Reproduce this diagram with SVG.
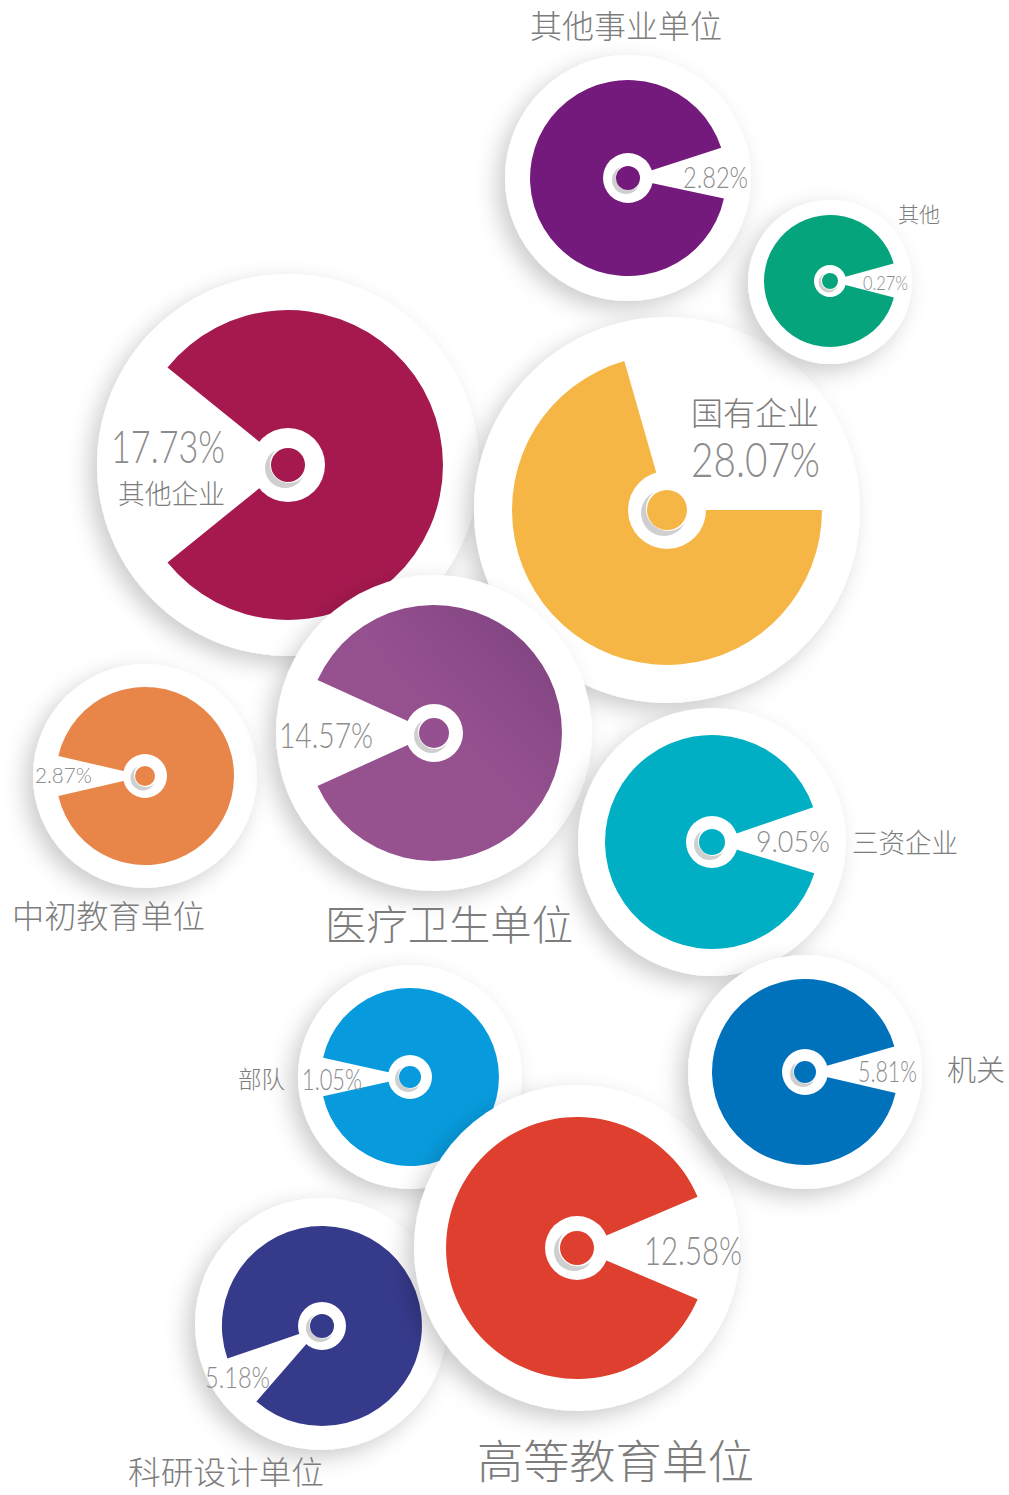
<svg xmlns="http://www.w3.org/2000/svg" width="1009" height="1495" viewBox="0 0 1009 1495">
<style>
.plate{fill:#ffffff;filter:url(#sh)}
.ring{fill:#ffffff}
.hole{fill:#cfcfcf}
.pct{font-family:Lato,Inter,"Noto Sans",sans-serif;font-weight:300;fill:#8c8c8c}
.lbl{font-family:"Noto Sans CJK SC","Noto Sans",sans-serif;font-weight:300;fill:#7d7d7d}
</style>
<defs>
<filter id="sh" x="-30%" y="-30%" width="160%" height="160%">
<feDropShadow dx="-8" dy="8" stdDeviation="11" flood-color="#000" flood-opacity="0.2"/>
</filter>
<linearGradient id="medg" x1="0" y1="1" x2="1" y2="0">
<stop offset="0" stop-color="#97528F"/>
<stop offset="0.55" stop-color="#95508F"/>
<stop offset="1" stop-color="#7C427E"/>
</linearGradient>
</defs>
<rect width="1009" height="1495" fill="#ffffff"/>
<g id="connectors"></g>

<g id="node-qita-shiye">
<circle class="plate" cx="628" cy="178" r="123"/>
<path d="M628,178 L723.9,198.4 A98,98 0 1 1 721.2,147.7 Z" fill="#751A7D"/>
<circle class="ring" cx="628" cy="178" r="25"/>
<circle class="hole" cx="626" cy="180" r="14"/>
<circle class="ring" cx="629" cy="177" r="13"/>
<circle cx="628" cy="178" r="12" fill="#751A7D"/>
<text class="pct" x="683" y="188" font-size="29" textLength="65" lengthAdjust="spacingAndGlyphs">2.82%</text>
<text class="lbl" x="530" y="38" font-size="32" textLength="192" lengthAdjust="spacingAndGlyphs">其他事业单位</text>
</g>

<g id="node-qiye-qita">
<circle class="plate" cx="288" cy="465" r="191"/>
<path d="M288,465 L167.5,367.5 A155,155 0 1 1 167.5,562.5 Z" fill="#A5194F"/>
<circle class="ring" cx="288" cy="465" r="37"/>
<circle class="hole" cx="285" cy="468" r="20"/>
<circle class="ring" cx="289" cy="464" r="19"/>
<circle cx="288" cy="465" r="17" fill="#A5194F"/>
<text class="pct" x="111" y="463" font-size="46" textLength="114" lengthAdjust="spacingAndGlyphs">17.73%</text>
<text class="lbl" x="118" y="504" font-size="27" textLength="107" lengthAdjust="spacingAndGlyphs">其他企业</text>
</g>

<g id="node-guoyou">
<circle class="plate" cx="667" cy="510" r="193"/>
<path d="M667,510 L822,510 A155,155 0 1 1 624.3,361 Z" fill="#F5B646"/>
<circle class="ring" cx="667" cy="510" r="39"/>
<circle class="hole" cx="664" cy="513" r="23"/>
<circle class="ring" cx="668" cy="509" r="22"/>
<circle cx="667" cy="510" r="20" fill="#F5B646"/>
<text class="lbl" x="691" y="425" font-size="32" textLength="128" lengthAdjust="spacingAndGlyphs">国有企业</text>
<text class="pct" x="691" y="477" font-size="47" textLength="129" lengthAdjust="spacingAndGlyphs">28.07%</text>
</g>

<g id="node-qita">
<circle class="plate" cx="830" cy="282" r="82"/>
<path d="M830,281 L893.9,297.5 A66,66 0 1 1 893.6,263.4 Z" fill="#06A47C"/>
<circle class="ring" cx="830" cy="281" r="16"/>
<circle class="hole" cx="828.5" cy="282.5" r="10"/>
<circle class="ring" cx="830.5" cy="280.5" r="9.5"/>
<circle cx="830" cy="281" r="8" fill="#06A47C"/>
<text class="pct" x="863" y="290" font-size="20" textLength="45" lengthAdjust="spacingAndGlyphs">0.27%</text>
<text class="lbl" x="898" y="222" font-size="21" textLength="42" lengthAdjust="spacingAndGlyphs">其他</text>
</g>

<g id="node-zhongchu">
<circle class="plate" cx="145" cy="776" r="112"/>
<path d="M145,776 L58.3,756 A89,89 0 1 1 58.3,796 Z" fill="#E8864A"/>
<circle class="ring" cx="145" cy="776" r="22"/>
<circle class="hole" cx="143" cy="778" r="12.5"/>
<circle class="ring" cx="146" cy="775" r="12"/>
<circle cx="145" cy="776" r="10" fill="#E8864A"/>
<text class="pct" x="35" y="783" font-size="22" textLength="57" lengthAdjust="spacingAndGlyphs">2.87%</text>
<text class="lbl" x="12" y="928" font-size="32" textLength="193" lengthAdjust="spacingAndGlyphs">中初教育单位</text>
</g>

<g id="node-yiliao">
<circle class="plate" cx="434" cy="733" r="158"/>
<path d="M434,733 L317.5,679.9 A128,128 0 1 1 317.5,786.1 Z" fill="url(#medg)"/>
<circle class="ring" cx="434" cy="733" r="29"/>
<circle class="hole" cx="431.5" cy="735.5" r="17.5"/>
<circle class="ring" cx="435" cy="732" r="17"/>
<circle cx="434" cy="733" r="15" fill="#95508F"/>
<text class="pct" x="279" y="748" font-size="36" textLength="94" lengthAdjust="spacingAndGlyphs">14.57%</text>
<text class="lbl" x="325" y="940" font-size="41" textLength="248" lengthAdjust="spacingAndGlyphs">医疗卫生单位</text>
</g>

<g id="node-sanzi">
<circle class="plate" cx="712" cy="842" r="134"/>
<path d="M712,842 L814.3,873.3 A107,107 0 1 1 813.2,807.2 Z" fill="#00AFC3"/>
<circle class="ring" cx="712" cy="842" r="26"/>
<circle class="hole" cx="709.5" cy="844.5" r="15.5"/>
<circle class="ring" cx="713" cy="841" r="15"/>
<circle cx="712" cy="842" r="13" fill="#00AFC3"/>
<text class="pct" x="756" y="852" font-size="30" textLength="74" lengthAdjust="spacingAndGlyphs">9.05%</text>
<text class="lbl" x="852" y="853" font-size="27" textLength="106" lengthAdjust="spacingAndGlyphs">三资企业</text>
</g>

<g id="node-budui">
<circle class="plate" cx="410" cy="1077" r="112"/>
<path d="M410,1077 L323.1,1057.7 A89,89 0 1 1 323.1,1096.3 Z" fill="#079BDD"/>
<circle class="ring" cx="410" cy="1077" r="22"/>
<circle class="hole" cx="408" cy="1079" r="13"/>
<circle class="ring" cx="411" cy="1076" r="12.5"/>
<circle cx="410" cy="1077" r="11" fill="#079BDD"/>
<text class="lbl" x="238" y="1088" font-size="24" textLength="47" lengthAdjust="spacingAndGlyphs">部队</text>
<text class="pct" x="302" y="1090" font-size="30" textLength="60" lengthAdjust="spacingAndGlyphs">1.05%</text>
</g>

<g id="node-keyan">
<circle class="plate" cx="321" cy="1324" r="126"/>
<path d="M322,1326 L227.4,1358.6 A100,100 0 1 1 256.4,1401.5 Z" fill="#363A8B"/>
<circle class="ring" cx="322" cy="1326" r="24"/>
<circle class="hole" cx="320" cy="1328" r="14"/>
<circle class="ring" cx="323" cy="1325" r="13.5"/>
<circle cx="322" cy="1326" r="12" fill="#363A8B"/>
<text class="pct" x="205" y="1388" font-size="29" textLength="65" lengthAdjust="spacingAndGlyphs">5.18%</text>
<text class="lbl" x="128" y="1484" font-size="32" textLength="196" lengthAdjust="spacingAndGlyphs">科研设计单位</text>
</g>

<g id="node-gaodeng">
<circle class="plate" cx="577" cy="1248" r="163"/>
<path d="M577,1248 L697.6,1299.2 A131,131 0 1 1 697.6,1196.8 Z" fill="#DF3F2E"/>
<circle class="ring" cx="577" cy="1248" r="32"/>
<circle class="hole" cx="574" cy="1251" r="20"/>
<circle class="ring" cx="578" cy="1247" r="19.5"/>
<circle cx="577" cy="1248" r="17" fill="#DF3F2E"/>
<text class="pct" x="644" y="1265" font-size="39" textLength="98" lengthAdjust="spacingAndGlyphs">12.58%</text>
<text class="lbl" x="477" y="1478" font-size="46" textLength="277" lengthAdjust="spacingAndGlyphs">高等教育单位</text>
</g>

<g id="node-jiguan">
<circle class="plate" cx="805" cy="1072" r="117"/>
<path d="M805,1072 L895.6,1092.9 A93,93 0 1 1 894.4,1046.4 Z" fill="#0072BC"/>
<circle class="ring" cx="805" cy="1072" r="23"/>
<circle class="hole" cx="803" cy="1074" r="13"/>
<circle class="ring" cx="806" cy="1071" r="12.5"/>
<circle cx="805" cy="1072" r="11" fill="#0072BC"/>
<text class="pct" x="858" y="1082" font-size="30" textLength="59" lengthAdjust="spacingAndGlyphs">5.81%</text>
<text class="lbl" x="947" y="1081" font-size="29" textLength="58" lengthAdjust="spacingAndGlyphs">机关</text>
</g>
</svg>
